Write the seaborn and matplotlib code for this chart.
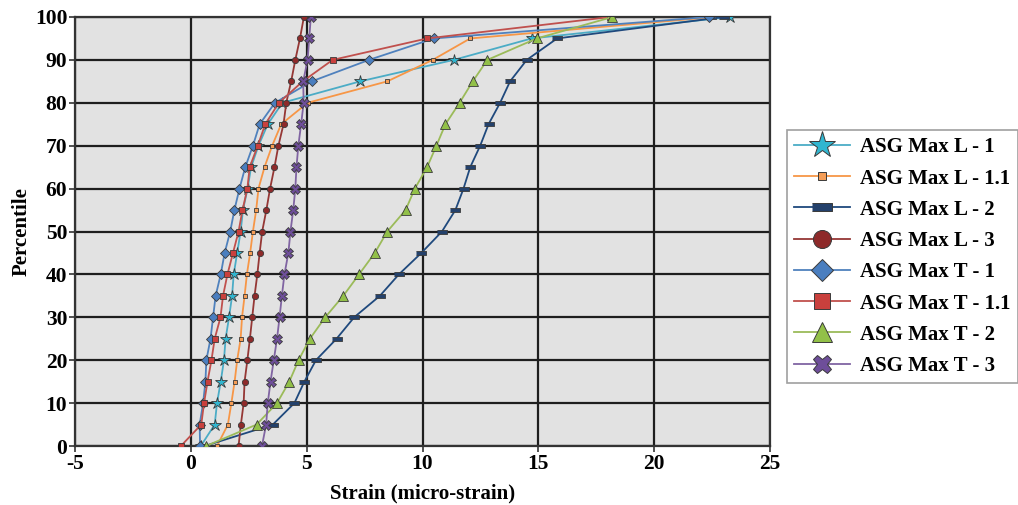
import matplotlib
matplotlib.use('Agg')
import matplotlib.pyplot as plt
from matplotlib.lines import Line2D
import seaborn as sns
import pandas as pd

pct = [0, 5, 10, 15, 20, 25, 30, 35, 40, 45, 50, 55, 60, 65, 70, 75, 80, 85, 90, 95, 100]

l1 = [0.43, 1.03, 1.13, 1.29, 1.43, 1.50, 1.65, 1.78, 1.85, 2.00, 2.15, 2.25, 2.45, 2.60, 2.92, 3.32, 3.95, 7.31, 11.35, 14.71, 23.27]
l11 = [1.13, 1.60, 1.75, 1.89, 2.00, 2.15, 2.21, 2.32, 2.42, 2.56, 2.68, 2.82, 2.92, 3.18, 3.51, 3.90, 5.04, 8.48, 10.44, 12.06, 22.60]
l2 = [0.60, 3.54, 4.47, 4.90, 5.40, 6.29, 7.05, 8.16, 8.98, 9.95, 10.84, 11.42, 11.77, 12.06, 12.49, 12.85, 13.35, 13.78, 14.50, 15.81, 23.00]
l3 = [2.06, 2.16, 2.28, 2.32, 2.44, 2.55, 2.65, 2.75, 2.87, 2.97, 3.08, 3.26, 3.42, 3.61, 3.78, 4.00, 4.12, 4.33, 4.51, 4.71, 4.88]
t1 = [0.40, 0.38, 0.53, 0.63, 0.67, 0.85, 0.96, 1.07, 1.29, 1.46, 1.70, 1.88, 2.10, 2.35, 2.68, 2.97, 3.63, 5.22, 7.69, 10.49, 22.35]
t11 = [-0.43, 0.45, 0.57, 0.72, 0.89, 1.03, 1.28, 1.39, 1.58, 1.82, 2.06, 2.23, 2.44, 2.54, 2.89, 3.21, 3.80, 4.83, 6.12, 10.20, 18.10]
t2 = [0.66, 2.84, 3.72, 4.25, 4.65, 5.14, 5.80, 6.58, 7.26, 7.94, 8.48, 9.27, 9.67, 10.20, 10.60, 10.99, 11.60, 12.17, 12.80, 14.93, 18.20]
t3 = [3.07, 3.25, 3.32, 3.44, 3.58, 3.72, 3.83, 3.93, 4.04, 4.21, 4.30, 4.42, 4.51, 4.56, 4.64, 4.76, 4.87, 4.85, 5.04, 5.11, 5.18]

names = ['ASG Max L - 1', 'ASG Max L - 1.1', 'ASG Max L - 2', 'ASG Max L - 3',
         'ASG Max T - 1', 'ASG Max T - 1.1', 'ASG Max T - 2', 'ASG Max T - 3']
values = [l1, l11, l2, l3, t1, t11, t2, t3]

line_colors = ['#4bacc6', '#f79646', '#1f497d', '#953735', '#4f81bd', '#c0504d', '#9bbb59', '#8064a2']
face_colors = ['#31b6d0', '#f59d56', '#24416b', '#8e2a2a', '#4a7ebf', '#c9403d', '#92c048', '#6e4e9a']
rect = [(-1, -0.38), (1, -0.38), (1, 0.38), (-1, 0.38)]
markers = ['*', 's', rect, 'o', 'D', 's', '^', 'X']
plot_ms = [9, 3.2, 7, 4.5, 5, 5, 6.5, 6.5]
leg_ms = [20, 6, 15, 13, 11, 12, 14, 13]

plt.rcParams['font.family'] = ['Liberation Serif', 'DejaVu Serif']
plt.rcParams['font.weight'] = 'bold'
plt.rcParams['axes.unicode_minus'] = False

fig = plt.figure(figsize=(10.18, 5.05), dpi=100)
ax = fig.add_axes([75 / 1018, 1 - 446 / 505, 695 / 1018, 429 / 505])
ax.set_facecolor('#e2e2e2')

for i, name in enumerate(names):
    df = pd.DataFrame({'x': values[i], 'y': pct})
    sns.lineplot(data=df, x='x', y='y', ax=ax, sort=False, estimator=None,
                 color=line_colors[i], linewidth=1.3, marker=markers[i],
                 markersize=plot_ms[i], markerfacecolor=face_colors[i],
                 markeredgecolor='#3a3a3a', markeredgewidth=0.6, zorder=3 + i)

ax.set_xlim(-5, 25)
ax.set_ylim(0, 100)
ax.set_xticks(range(-5, 26, 5))
ax.set_yticks(range(0, 101, 10))
ax.grid(True, color='#1e1e1e', linewidth=1.6)
ax.set_axisbelow(True)
for s in ax.spines.values():
    s.set_color('#333333')
    s.set_linewidth(1.6)
ax.tick_params(labelsize=15.5, length=4, width=1.2, color='#333333', pad=1.5)
ax.set_xlabel('Strain (micro-strain)', fontsize=15, fontweight='bold', labelpad=7)
ax.set_ylabel('Percentile', fontsize=15, fontweight='bold', labelpad=2)

handles = []
for i, name in enumerate(names):
    handles.append(Line2D([0], [0], color=line_colors[i], linewidth=1.3, marker=markers[i],
                          markersize=leg_ms[i], markerfacecolor=face_colors[i],
                          markeredgecolor='#3a3a3a', markeredgewidth=0.7, label=name))
leg = fig.legend(handles=handles, loc='upper left', bbox_to_anchor=(787 / 1018, 1 - 130 / 505),
                 frameon=True, fancybox=False, fontsize=15, handlelength=2.65,
                 labelspacing=0.54, borderpad=0.35, handletextpad=0.5, borderaxespad=0)
leg.get_frame().set_edgecolor('#888888')
leg.get_frame().set_linewidth(1.2)
for t in leg.get_texts():
    t.set_fontweight('bold')

fig.savefig('out.png', dpi=100)
